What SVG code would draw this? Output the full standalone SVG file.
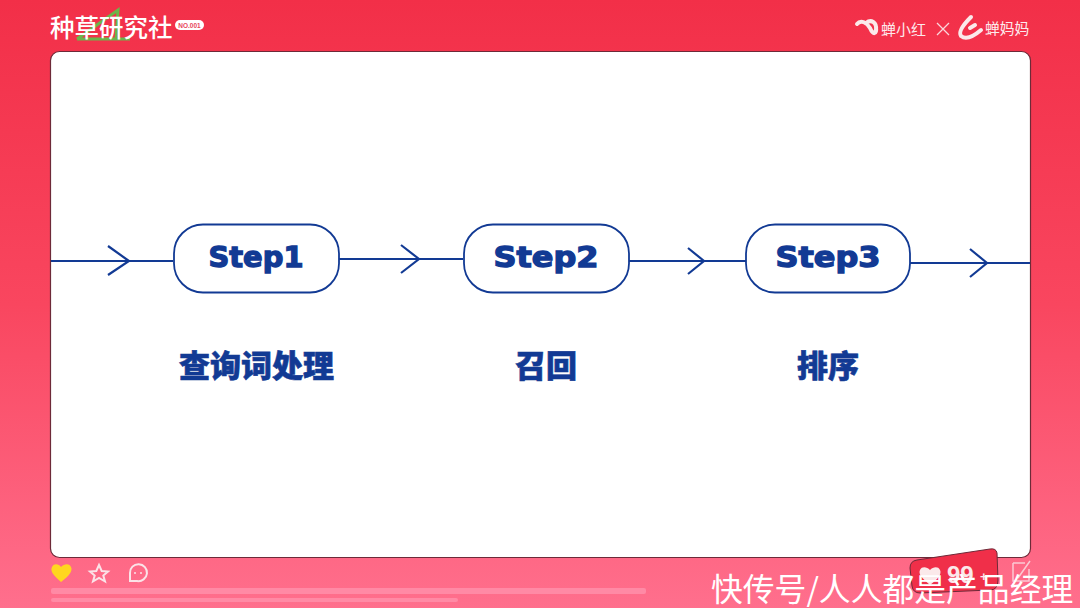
<svg xmlns="http://www.w3.org/2000/svg" width="1080" height="608" viewBox="0 0 1080 608">
<style>
.step{font-family:"DejaVu Sans","Noto Sans",sans-serif;font-weight:700;font-size:28px;fill:#123a94;stroke:#123a94;stroke-width:1.300px;text-anchor:middle}
.cn{font-family:"Noto Sans CJK SC",sans-serif;font-weight:900;font-size:31px;fill:#123a94;stroke:#123a94;stroke-width:.6px;text-anchor:middle}
.box{fill:#fff;stroke:#123a94;stroke-width:1.8}
.ln{fill:none;stroke:#123a94;stroke-width:2.2}
.hd{font-family:"Noto Sans CJK SC",sans-serif;fill:#fff}
.ic{fill:none;stroke:#fbe3e8;stroke-width:2}
</style>
<defs>
<linearGradient id="bg" x1="0" y1="0" x2="0" y2="1"><stop offset="0" stop-color="#f22f48"/><stop offset=".5" stop-color="#f9465f"/><stop offset="1" stop-color="#ff6f8d"/></linearGradient>
</defs>
<rect width="1080" height="608" fill="url(#bg)"/>
<g id="header-left">
<path d="M77 39 L118 10 L116 39 M77 39 H130" fill="none" stroke="#6cb54a" stroke-width="3"/>
<text class="hd" x="50" y="37" font-size="24.500" font-weight="500">种草研究社</text>
<rect x="175" y="20" width="29" height="10" rx="5" fill="#fff"/>
<text x="189.500" y="28" font-size="6.500" font-weight="700" font-family="Liberation Sans,sans-serif" fill="#e8475c" text-anchor="middle">NO.001</text>
</g>
<g id="header-right">
<path d="M857 24 C861 19 867 23 870 28 C873 35 877 35 876 27 M866 23 C871 19 877 22 876 30" fill="none" stroke="#fbe9ea" stroke-width="4" stroke-linecap="round"/>
<text class="hd" x="881" y="35" font-size="15" opacity=".9">蝉小红</text>
<path d="M937 23 L949 35 M949 23 L937 35" stroke="#fbd5da" stroke-width="1.300" fill="none"/>
<path d="M971 17 C964 24 958 32 961 36 C966 40 974 36 981 30 M970 28 L975 25" fill="none" stroke="#fbe9ea" stroke-width="4" stroke-linecap="round"/>
<text class="hd" x="985" y="34" font-size="14.800" opacity=".9">蝉妈妈</text>
</g>
<rect id="panel" x="50.500" y="51.500" width="980" height="506" rx="9" fill="#fff" stroke="#6d2a38" stroke-width="1.200"/>
<g id="connectors">
<path class="ln" d="M51 261 H173"/><path class="ln" d="M108 246 L129 261 L108 275"/>
<path class="ln" d="M339 259 H463"/><path class="ln" d="M401 245 L419 259 L401 273"/>
<path class="ln" d="M627 261 H746"/><path class="ln" d="M688 248 L704 261 L688 274"/>
<path class="ln" d="M908 263 H1030"/><path class="ln" d="M970 249 L987 263 L970 277"/>
</g>
<g id="step1"><rect class="box" x="174" y="224.500" width="165" height="68" rx="29"/><text class="step" x="256" y="267" textLength="95" lengthAdjust="spacingAndGlyphs">Step1</text><text class="cn" x="256.500" y="377">查询词处理</text></g>
<g id="step2"><rect class="box" x="464" y="224.500" width="165" height="68" rx="29"/><text class="step" x="546" y="267" textLength="105" lengthAdjust="spacingAndGlyphs">Step2</text><text class="cn" x="546" y="377">召回</text></g>
<g id="step3"><rect class="box" x="746" y="224.500" width="164" height="68" rx="29"/><text class="step" x="828" y="267" textLength="105" lengthAdjust="spacingAndGlyphs">Step3</text><text class="cn" x="828" y="377">排序</text></g>
<g id="footer">
<path d="M61 582 C53 575 50 571 52 567 C54 563 59 564 61 567 C64 564 69 563 71 567 C73 571 69 576 61 582 Z" fill="#ffd61f"/>
<path d="M99 565 L101.700 571 L108 571.500 L103.300 575.500 L105 581.500 L99 578 L93 581.500 L94.700 575.500 L90 571.500 L96.300 571 Z" class="ic"/>
<path d="M130 581 V573 A8.500 8.500 0 1 1 137 581 Z" class="ic"/>
<circle cx="135" cy="573" r="1" fill="#fbe3e8"/><circle cx="141" cy="573" r="1" fill="#fbe3e8"/>
<rect x="51" y="588" width="595" height="6" rx="2" fill="#ff8aa5"/>
<rect x="51" y="598" width="407" height="4" rx="2" fill="#ff8aa5"/>
<path d="M917 560 L990 549 Q996 548 997 553 L998 580 Q998 590 990 590 L920 593 Q913 593 912 586 L910 568 Q910 561 917 560 Z" fill="#f02f49" stroke="#6d2a38" stroke-width="1"/>
<path d="M930 585 C922 578 918 574 920 570 C922 566 927 567 930 570 C933 567 938 566 940 570 C942 574 938 579 930 585 Z" fill="#fbe9ea"/>
<text x="947" y="583" font-family="Liberation Sans,sans-serif" font-weight="700" font-size="24" fill="#fbe9ea">99</text>
<text x="980" y="581" font-family="Liberation Sans,sans-serif" font-weight="700" font-size="13" fill="#fbe9ea">+</text>
<path d="M1013 563 H1025 M1013 563 V581 H1029 V569 M1018 578 L1030 561" fill="none" stroke="#fbc9d3" stroke-width="1.500"/>
<text x="711" y="600.500" font-family="Noto Sans CJK SC,sans-serif" font-size="31.800" fill="#fff">快传号/人人都是产品经理</text>
</g>
</svg>
